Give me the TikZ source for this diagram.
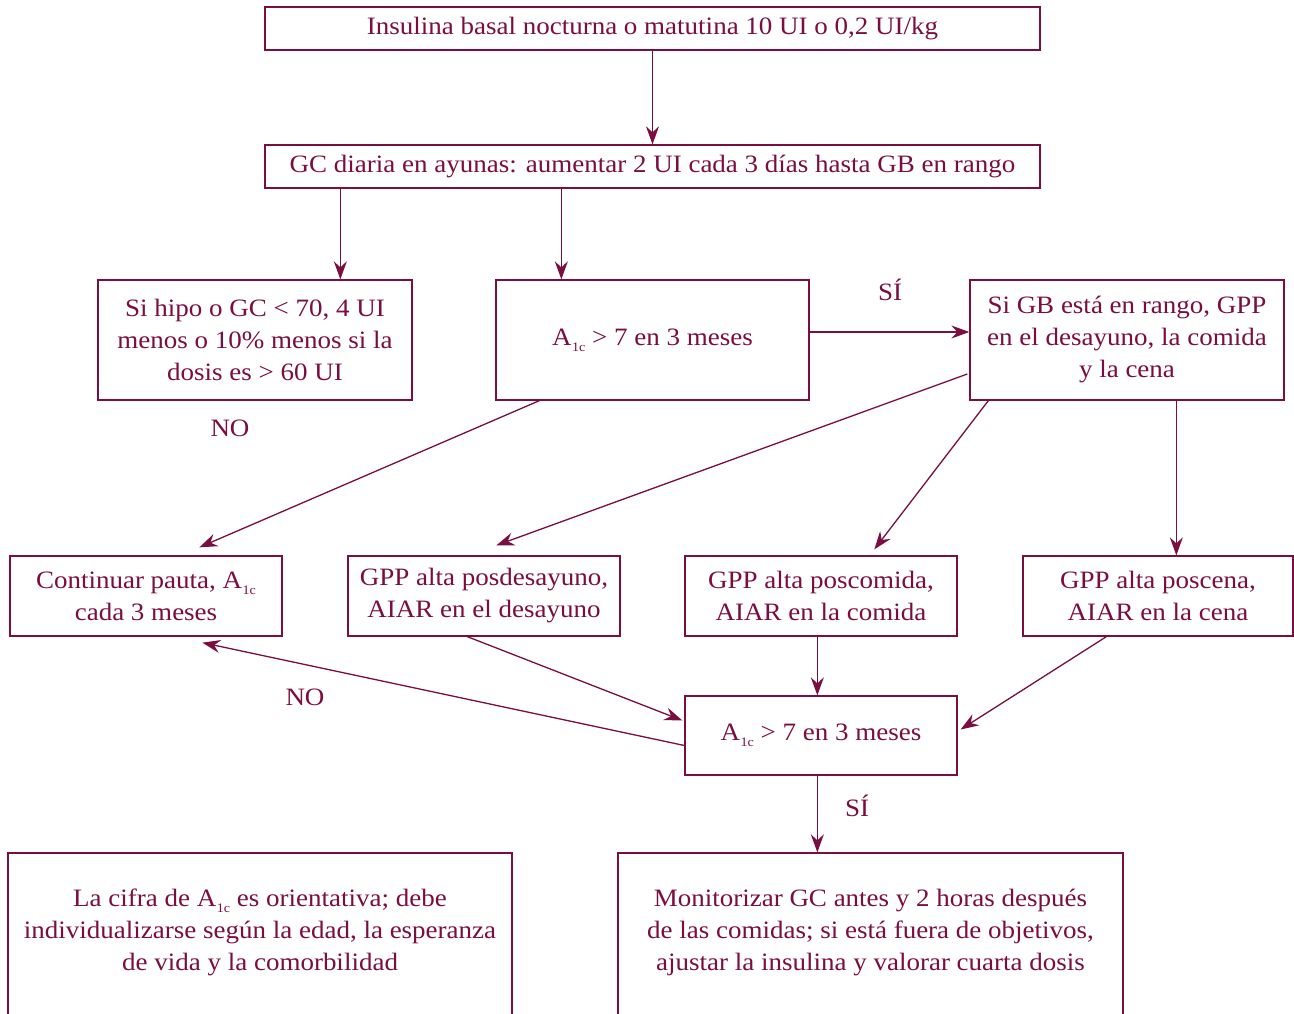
\documentclass[tikz,border=0pt]{standalone}
\usepackage{fontspec}
\setmainfont[FakeStretch=1.08]{Liberation Serif}
\usetikzlibrary{arrows.meta,calc}
\definecolor{mar}{RGB}{122,14,64}
\newcommand{\Aic}{A\kern0.5pt\raisebox{-0.55ex}{\fontsize{13}{13}\selectfont 1c}}
\tikzset{
  box/.style={draw=mar,line width=1.3pt,text=mar,align=center,inner sep=0pt,font=\fontsize{25}{32}\selectfont},
  conn/.style={draw=mar,line width=1.3pt,-{Stealth[length=18pt,width=13pt,inset=6pt]}},
  lab/.style={text=mar,font=\fontsize{25}{28}\selectfont}
}
\begin{document}
\begin{tikzpicture}[x=1pt,y=-1pt]
\useasboundingbox (0,0) rectangle (1294,1014);
\fill[white] (0,0) rectangle (1294,1014);
\node[box,minimum width=775pt,minimum height=43pt] (top) at (652.5,28.5) {Insulina basal nocturna o matutina 10 UI o 0,2 UI/kg};
\node[box,minimum width=775pt,minimum height=43pt] (gc) at (652.5,166.5) {GC diaria en ayunas: aumentar 2 UI cada 3 días hasta GB en rango};
\node[box,minimum width=314pt,minimum height=120pt] (hipo) at (255,340) {Si hipo o GC < 70, 4 UI\\menos o 10\% menos si la\\dosis es > 60 UI};
\node[box,minimum width=313pt,minimum height=120pt] (a1) at (652.5,340) {\Aic{} > 7 en 3 meses};
\node[box,minimum width=314pt,minimum height=120pt] (sigb) at (1127,340) {Si GB está en rango, GPP\\en el desayuno, la comida\\y la cena};
\node[box,minimum width=272pt,minimum height=80pt] (cont) at (146,596) {Continuar pauta, \Aic\\cada 3 meses};
\node[box,minimum width=272pt,minimum height=80pt] (des) at (484,596) {GPP alta posdesayuno,\\AIAR en el desayuno};
\node[box,minimum width=272pt,minimum height=80pt] (com) at (821,596) {GPP alta poscomida,\\AIAR en la comida};
\node[box,minimum width=270pt,minimum height=80pt] (cen) at (1158,596) {GPP alta poscena,\\AIAR en la cena};
\node[box,minimum width=272pt,minimum height=79pt] (a2) at (821,735.5) {\Aic{} > 7 en 3 meses};
\node[box,minimum width=504pt,minimum height=180pt] (cifra) at (260,943) {};
\node[text=mar,align=center,font=\fontsize{25}{32}\selectfont] (cifrat) at (260,932) {La cifra de \Aic{} es orientativa; debe\\individualizarse según la edad, la esperanza\\de vida y la comorbilidad};
\node[box,minimum width=505pt,minimum height=180pt] (moni) at (870.5,943) {};
\node[text=mar,align=center,font=\fontsize{25}{32}\selectfont] (monit) at (870.5,932) {Monitorizar GC antes y 2 horas después\\de las comidas; si está fuera de objetivos,\\ajustar la insulina y valorar cuarta dosis};
% arrows
\draw[conn] (top.south) -- (gc.north);
\draw[conn] ($(gc.south west)+(76,0)$) -- ($(hipo.north west)+(243,0)$);
\draw[conn] ($(gc.south west)+(297,0)$) -- ($(a1.north west)+(66,0)$);
\draw[conn] ($(a1.east)+(0,-8)$) -- ($(sigb.west)+(0,-8)$);
\draw[conn] ($(a1.south west)+(44,0)$) -- ($(cont.north west)+(190,-8)$);
\draw[conn] ($(sigb.west)+(-2,34)$) -- ($(des.north west)+(149,-10)$);
\draw[conn] ($(sigb.south west)+(19,0)$) -- ($(com.north west)+(190,-6)$);
\draw[conn] ($(sigb.south west)+(207,0)$) -- ($(cen.north west)+(154,0)$);
\draw[conn] ($(des.south west)+(120,0)$) -- ($(a2.west)+(-2,-15)$);
\draw[conn] ($(com.south west)+(133,0)$) -- ($(a2.north west)+(133,0)$);
\draw[conn] ($(cen.south west)+(84,0)$) -- ($(a2.east)+(3,-6)$);
\draw[conn] ($(a2.west)+(0,10)$) -- ($(cont.south west)+(193,6)$);
\draw[conn] ($(a2.south west)+(133,0)$) -- ($(moni.north west)+(200,0)$);
% labels
\node[lab] (si1) at (890,290) {SÍ};
\node[lab] (no1) at (230,428) {NO};
\node[lab] (no2) at (305,697) {NO};
\node[lab] (si2) at (857,806) {SÍ};
\end{tikzpicture}
\end{document}
